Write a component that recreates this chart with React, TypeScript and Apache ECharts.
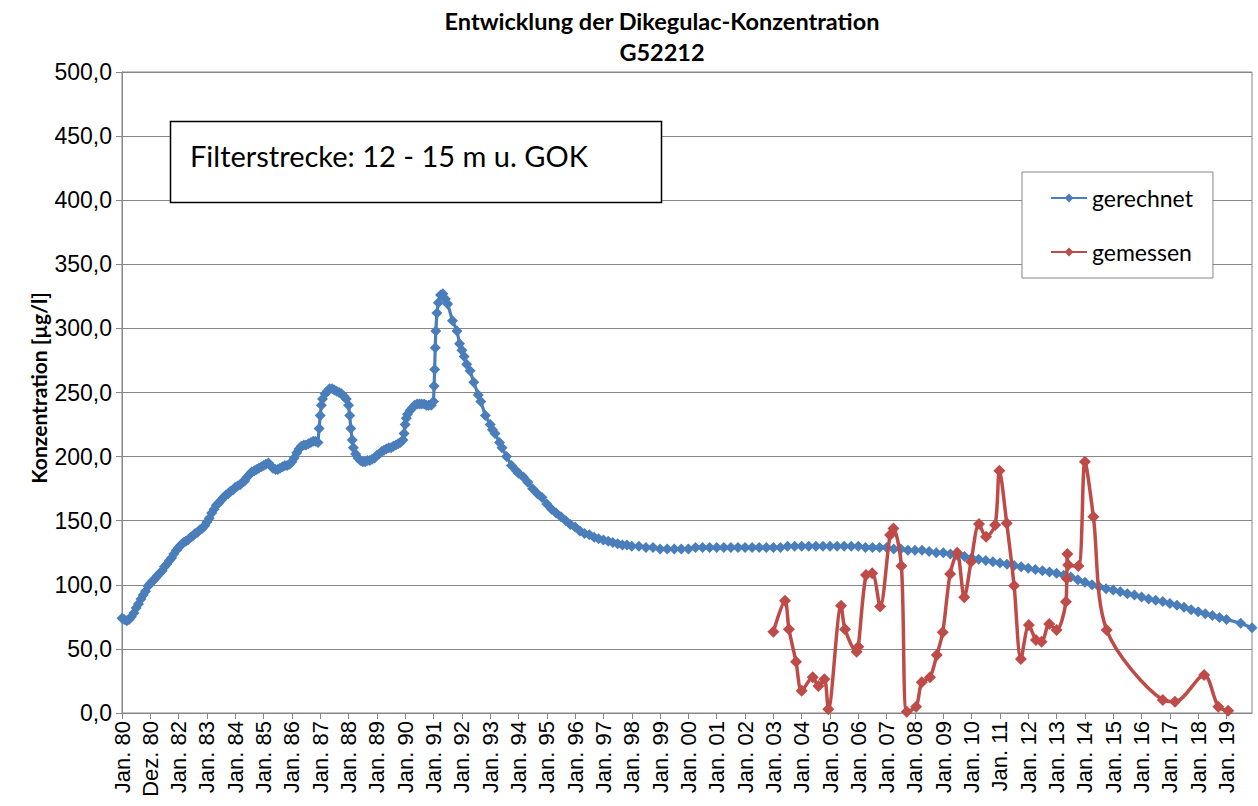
import React, { useEffect, useRef } from "react";
import * as echarts from "echarts";

const xLabels = [
  "Jan. 80", "Dez. 80", "Jan. 82", "Jan. 83", "Jan. 84", "Jan. 85", "Jan. 86", "Jan. 87",
  "Jan. 88", "Jan. 89", "Jan. 90", "Jan. 91", "Jan. 92", "Jan. 93", "Jan. 94", "Jan. 95",
  "Jan. 96", "Jan. 97", "Jan. 98", "Jan. 99", "Jan. 00", "Jan. 01", "Jan. 02", "Jan. 03",
  "Jan. 04", "Jan. 05", "Jan. 06", "Jan. 07", "Jan. 08", "Jan. 09", "Jan. 10", "Jan. 11",
  "Jan. 12", "Jan. 13", "Jan. 14", "Jan. 15", "Jan. 16", "Jan. 17", "Jan. 18", "Jan. 19",
];

const gerechnetJahr = [
  1980.00, 1980.08, 1980.17, 1980.25, 1980.33, 1980.42, 1980.50, 1980.58, 1980.67, 1980.75, 1980.83, 1980.92,
  1981.00, 1981.08, 1981.17, 1981.25, 1981.33, 1981.42, 1981.50, 1981.58, 1981.67, 1981.75, 1981.83, 1981.92,
  1982.00, 1982.08, 1982.17, 1982.25, 1982.33, 1982.42, 1982.50, 1982.58, 1982.67, 1982.75, 1982.83, 1982.92,
  1983.00, 1983.08, 1983.17, 1983.25, 1983.33, 1983.42, 1983.50, 1983.58, 1983.67, 1983.75, 1983.83, 1983.92,
  1984.00, 1984.08, 1984.17, 1984.25, 1984.33, 1984.42, 1984.50, 1984.58, 1984.67, 1984.75, 1984.83, 1984.92,
  1985.00, 1985.08, 1985.17, 1985.25, 1985.33, 1985.42, 1985.50, 1985.58, 1985.67, 1985.75, 1985.83, 1985.92,
  1986.00, 1986.08, 1986.17, 1986.25, 1986.33, 1986.42, 1986.50, 1986.58, 1986.67, 1986.75, 1986.83, 1986.92,
  1986.96, 1987.00, 1987.04, 1987.08, 1987.17, 1987.25, 1987.33, 1987.42, 1987.50, 1987.58, 1987.67, 1987.75,
  1987.83, 1987.92, 1988.00, 1988.04, 1988.08, 1988.13, 1988.17, 1988.25, 1988.33, 1988.42, 1988.50, 1988.58,
  1988.67, 1988.75, 1988.83, 1988.92, 1989.00, 1989.08, 1989.17, 1989.25, 1989.33, 1989.42, 1989.50, 1989.58,
  1989.67, 1989.75, 1989.83, 1989.92, 1989.96, 1990.00, 1990.04, 1990.08, 1990.17, 1990.25, 1990.33, 1990.42,
  1990.50, 1990.58, 1990.67, 1990.75, 1990.83, 1990.92, 1991.00, 1991.02, 1991.04, 1991.06, 1991.08, 1991.12,
  1991.17, 1991.25, 1991.33, 1991.42, 1991.50, 1991.67, 1991.83, 1991.92, 1992.00, 1992.08, 1992.17, 1992.29,
  1992.42, 1992.58, 1992.67, 1992.83, 1993.00, 1993.08, 1993.17, 1993.33, 1993.42, 1993.58, 1993.75, 1993.92,
  1994.00, 1994.17, 1994.33, 1994.50, 1994.67, 1994.83, 1995.00, 1995.17, 1995.33, 1995.50, 1995.67, 1995.83,
  1996.00, 1996.17, 1996.33, 1996.50, 1996.67, 1996.83, 1997.00, 1997.17, 1997.33, 1997.50, 1997.67, 1997.83,
  1998.00, 1998.25, 1998.50, 1998.75, 1999.00, 1999.25, 1999.50, 1999.75, 2000.00, 2000.25, 2000.50, 2000.75,
  2001.00, 2001.25, 2001.50, 2001.75, 2002.00, 2002.25, 2002.50, 2002.75, 2003.00, 2003.25, 2003.50, 2003.75,
  2004.00, 2004.25, 2004.50, 2004.75, 2005.00, 2005.25, 2005.50, 2005.75, 2006.00, 2006.25, 2006.50, 2006.75,
  2007.00, 2007.25, 2007.50, 2007.75, 2008.00, 2008.25, 2008.50, 2008.75, 2009.00, 2009.25, 2009.50, 2009.75,
  2010.00, 2010.25, 2010.50, 2010.75, 2011.00, 2011.25, 2011.50, 2011.75, 2012.00, 2012.25, 2012.50, 2012.75,
  2013.00, 2013.25, 2013.50, 2013.75, 2014.00, 2014.25, 2014.50, 2014.75, 2015.00, 2015.25, 2015.50, 2015.75,
  2016.00, 2016.25, 2016.50, 2016.75, 2017.00, 2017.25, 2017.50, 2017.75, 2018.00, 2018.25, 2018.50, 2018.75,
  2019.00, 2019.50, 2019.90,
];

const gerechnetWert = [
  74, 73, 72, 73, 75, 78, 82, 85, 89, 92, 95, 99,
  101, 103, 105, 107, 109, 111, 114, 116, 119, 121, 124, 127,
  129, 131, 133, 134, 135, 137, 138, 140, 141, 143, 144, 146,
  149, 152, 156, 159, 162, 164, 166, 168, 170, 171, 173, 174,
  176, 177, 178, 180, 181, 184, 186, 188, 189, 190, 191, 192,
  193, 194, 195, 193, 191, 190, 190, 191, 192, 193, 193, 194,
  196, 199, 203, 206, 208, 209, 209, 210, 211, 212, 212, 211,
  222, 232, 240, 245, 249, 251, 253, 253, 252, 251, 250, 249,
  247, 245, 240, 232, 222, 213, 207, 202, 199, 197, 196, 196,
  197, 197, 198, 199, 201, 202, 204, 205, 206, 207, 207, 208,
  209, 210, 211, 213, 218, 225, 230, 233, 236, 238, 240, 241,
  241, 241, 241, 240, 240, 240, 243, 255, 268, 285, 298, 312,
  320, 326, 327, 323, 319, 306, 298, 288, 283, 278, 272, 267,
  258, 248, 243, 232, 225, 221, 218, 211, 207, 200, 193, 189,
  187, 184, 180, 175, 171, 168, 163, 159, 156, 153, 150, 147,
  145, 142, 140, 139, 137, 136, 135, 134, 133, 132, 131, 131,
  130, 130, 129, 129, 128, 128, 128, 128, 128, 129, 129, 129,
  129, 129, 129, 129, 129, 129, 129, 129, 129, 129, 130, 130,
  130, 130, 130, 130, 130, 130, 130, 130, 130, 129, 129, 129,
  129, 128, 128, 127, 127, 127, 126, 125, 125, 124, 123, 122,
  121, 120, 119, 118, 117, 116, 115, 114, 113, 112, 111, 110,
  109, 107.5, 106, 104, 102, 100, 98.5, 97, 96, 94.5, 93, 92,
  90.5, 89, 88, 87, 85.5, 84, 82.5, 80.5, 79, 77.5, 76, 74.5,
  73, 70, 66.5,
];

const gemessenJahr = [
  2003.00, 2003.41, 2003.55, 2003.80, 2004.00, 2004.39, 2004.59, 2004.80, 2004.94, 2005.39,
  2005.53, 2005.94, 2006.00, 2006.27, 2006.49, 2006.77, 2007.12, 2007.24, 2007.52, 2007.71,
  2008.04, 2008.24, 2008.53, 2008.77, 2008.98, 2009.24, 2009.49, 2009.74, 2009.98, 2010.26,
  2010.51, 2010.83, 2010.98, 2011.24, 2011.50, 2011.74, 2012.02, 2012.27, 2012.47, 2012.74,
  2013.00, 2013.33, 2013.36, 2013.38, 2013.41, 2013.77, 2014.00, 2014.30, 2014.77, 2016.75,
  2017.18, 2018.21, 2018.71, 2019.06,
];

const gemessenWert = [
  63.4, 87.6, 65.3, 40.0, 17.4, 27.8, 21.0, 26.3, 2.9, 83.7,
  65.3, 47.8, 51.7, 107.6, 109.0, 83.0, 138.8, 144.0, 114.7, 1.0,
  4.9, 24.0, 27.8, 45.2, 63.0, 108.4, 125.0, 90.2, 118.0, 147.4,
  137.5, 146.6, 189.0, 148.0, 99.3, 42.1, 68.6, 57.0, 55.6, 69.4,
  64.7, 86.8, 105.0, 124.0, 115.4, 114.7, 196.0, 153.0, 64.7, 10.1,
  8.8, 29.6, 4.9, 1.8,
];

const yTicks = [0, 50, 100, 150, 200, 250, 300, 350, 400, 450, 500];

const BLUE = "#4A7EBB";
const RED = "#BE4B48";
const GRID = "#868686";

export default function App() {
  const ref = useRef<HTMLDivElement>(null);

  useEffect(() => {
    document.body.style.margin = "0";
    if (!ref.current) return;
    const chart = echarts.init(ref.current, null, { renderer: "svg" });

    const blueData = gerechnetJahr.map((x, i) => [x, gerechnetWert[i]]);
    const redData = gemessenJahr.map((x, i) => [x, gemessenWert[i]]);

    chart.setOption({
      animation: false,
      backgroundColor: "#fff",
      grid: {
        left: 122,
        right: 6,
        top: 72,
        bottom: 93,
        show: true,
        borderColor: GRID,
        borderWidth: 1,
        containLabel: false,
      },
      legend: {
        orient: "vertical",
        left: 1022,
        top: 172,
        padding: [12, 20, 12, 28],
        itemGap: 26,
        itemWidth: 36,
        itemHeight: 11,
        borderColor: GRID,
        borderWidth: 1,
        backgroundColor: "#fff",
        textStyle: { fontFamily: "Lato", fontSize: 23, color: "#000", lineHeight: 28 },
        data: ["gerechnet", "gemessen"],
      },
      xAxis: {
        type: "value",
        min: 1980,
        max: 2019.9,
        interval: 1,
        splitLine: { show: false },
        axisLine: { lineStyle: { color: GRID, width: 1 } },
        axisTick: { show: true, inside: false, length: 6, lineStyle: { color: GRID } },
        axisLabel: {
          rotate: 90,
          margin: 8,
          fontFamily: "Liberation Sans",
          fontSize: 22,
          color: "#000",
          showMaxLabel: false,
          formatter: (v: number) => {
            const i = Math.round(v - 1980);
            if (Math.abs(v - 1980 - i) > 1e-6) return "";
            return xLabels[i] ?? "";
          },
        },
      },
      yAxis: {
        type: "value",
        min: 0,
        max: 500,
        interval: 50,
        splitLine: { show: true, lineStyle: { color: GRID, width: 1 } },
        axisLine: { show: true, lineStyle: { color: GRID, width: 1 } },
        axisTick: { show: true, inside: false, length: 6, lineStyle: { color: GRID } },
        axisLabel: {
          margin: 10,
          fontFamily: "Liberation Sans",
          fontSize: 23,
          color: "#000",
          formatter: (v: number) => (yTicks.includes(v) ? v.toFixed(1).replace(".", ",") : ""),
        },
      },
      series: [
        {
          name: "gerechnet",
          type: "line",
          data: blueData,
          symbol: "diamond",
          symbolSize: 11,
          lineStyle: { color: BLUE, width: 3.2 },
          itemStyle: { color: BLUE },
          z: 2,
        },
        {
          name: "gemessen",
          type: "line",
          data: redData,
          smooth: 0.3,
          symbol: "diamond",
          symbolSize: 12,
          lineStyle: { color: RED, width: 3.5 },
          itemStyle: { color: RED },
          z: 3,
        },
      ],
      graphic: [
        {
          type: "text",
          x: 662,
          y: 21,
          style: {
            text: "Entwicklung der Dikegulac-Konzentration",
            font: "bold 23.5px Lato",
            fill: "#000",
            textAlign: "center",
            textVerticalAlign: "middle",
          },
        },
        {
          type: "text",
          x: 662,
          y: 52,
          style: {
            text: "G52212",
            font: "bold 23.5px Lato",
            fill: "#000",
            textAlign: "center",
            textVerticalAlign: "middle",
          },
        },
        {
          type: "text",
          x: 38,
          y: 388,
          rotation: Math.PI / 2,
          style: {
            text: "Konzentration [µg/l]",
            font: "bold 21px Lato",
            fill: "#000",
            textAlign: "center",
            textVerticalAlign: "middle",
          },
        },
        {
          type: "rect",
          shape: { x: 170.5, y: 121.5, width: 491, height: 81 },
          style: { fill: "#fff", stroke: "#000", lineWidth: 1.5 },
          z: 10,
        },
        {
          type: "text",
          x: 190,
          y: 155,
          z: 11,
          style: {
            text: "Filterstrecke: 12 - 15 m u. GOK",
            font: "29px Lato",
            fill: "#000",
            textAlign: "left",
            textVerticalAlign: "middle",
          },
        },
      ],
    });

    return () => chart.dispose();
  }, []);

  return <div ref={ref} style={{ width: 1258, height: 806 }} />;
}
